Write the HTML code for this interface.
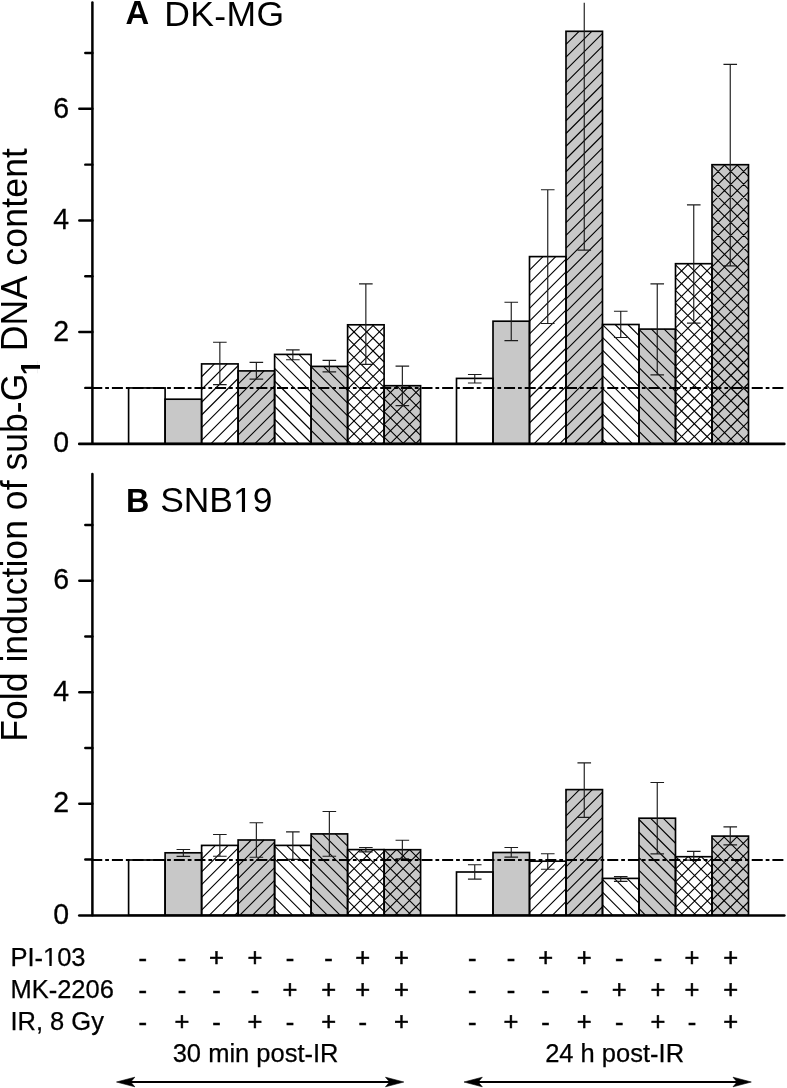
<!DOCTYPE html>
<html><head><meta charset="utf-8"><title>Figure</title>
<style>html,body{margin:0;padding:0;background:#fff;}svg{display:block;}text{font-family:"Liberation Sans",sans-serif;fill:#000;font-kerning:none;}</style></head><body>
<svg width="787" height="1088" viewBox="0 0 787 1088" style="will-change:transform;filter:blur(0.3px)">
<rect width="787" height="1088" fill="#fff"/>
<defs>
<clipPath id="c1r"><rect x="-5" y="-110" width="120" height="101.6"/><rect x="25.1" y="-9" width="8.9" height="9.6"/></clipPath>
<clipPath id="c1b"><rect x="-5" y="-110" width="120" height="98.8"/><rect x="23.3" y="-11.5" width="13.8" height="12.1"/></clipPath>
</defs>
<rect x="128.60" y="387.95" width="36.5" height="55.75" fill="#fff"/>
<rect x="165.10" y="399.20" width="36.5" height="44.50" fill="#c8c8c8"/>
<rect x="201.60" y="363.90" width="36.5" height="79.80" fill="#fff"/>
<path d="M201.60,364.02L201.72,363.90M201.60,376.76L214.46,363.90M201.60,389.50L227.20,363.90M201.60,402.24L238.10,365.74M201.60,414.98L238.10,378.48M201.60,427.72L238.10,391.22M201.60,440.46L238.10,403.96M211.10,443.70L238.10,416.70M223.84,443.70L238.10,429.44M236.58,443.70L238.10,442.18" stroke="#000" stroke-width="1.12" fill="none"/>
<rect x="238.10" y="370.90" width="36.5" height="72.80" fill="#c8c8c8"/>
<path d="M238.10,371.42L238.62,370.90M238.10,384.16L251.36,370.90M238.10,396.90L264.10,370.90M238.10,409.64L274.60,373.14M238.10,422.38L274.60,385.88M238.10,435.12L274.60,398.62M242.26,443.70L274.60,411.36M255.00,443.70L274.60,424.10M267.74,443.70L274.60,436.84" stroke="#000" stroke-width="1.12" fill="none"/>
<rect x="274.60" y="354.40" width="36.5" height="89.30" fill="#fff"/>
<path d="M274.60,431.98L286.32,443.70M274.60,419.24L299.06,443.70M274.60,406.50L311.10,443.00M274.60,393.76L311.10,430.26M274.60,381.02L311.10,417.52M274.60,368.28L311.10,404.78M274.60,355.54L311.10,392.04M286.20,354.40L311.10,379.30M298.94,354.40L311.10,366.56" stroke="#000" stroke-width="1.12" fill="none"/>
<rect x="311.10" y="366.40" width="36.5" height="77.30" fill="#c8c8c8"/>
<path d="M311.10,443.11L311.69,443.70M311.10,430.37L324.43,443.70M311.10,417.63L337.17,443.70M311.10,404.89L347.60,441.39M311.10,392.15L347.60,428.65M311.10,379.41L347.60,415.91M311.10,366.67L347.60,403.17M323.57,366.40L347.60,390.43M336.31,366.40L347.60,377.69" stroke="#000" stroke-width="1.12" fill="none"/>
<rect x="347.60" y="324.80" width="36.5" height="118.90" fill="#fff"/>
<path d="M347.60,325.50L348.30,324.80M347.60,338.24L361.04,324.80M347.60,350.98L373.78,324.80M347.60,363.72L384.10,327.22M347.60,376.46L384.10,339.96M347.60,389.20L384.10,352.70M347.60,401.94L384.10,365.44M347.60,414.68L384.10,378.18M347.60,427.42L384.10,390.92M347.60,440.16L384.10,403.66M356.80,443.70L384.10,416.40M369.54,443.70L384.10,429.14M382.28,443.70L384.10,441.88M347.60,440.14L351.16,443.70M347.60,427.40L363.90,443.70M347.60,414.66L376.64,443.70M347.60,401.92L384.10,438.42M347.60,389.18L384.10,425.68M347.60,376.44L384.10,412.94M347.60,363.70L384.10,400.20M347.60,350.96L384.10,387.46M347.60,338.22L384.10,374.72M347.60,325.48L384.10,361.98M359.66,324.80L384.10,349.24M372.40,324.80L384.10,336.50" stroke="#000" stroke-width="1.12" fill="none"/>
<rect x="384.10" y="385.70" width="36.5" height="58.00" fill="#c8c8c8"/>
<path d="M384.10,386.08L384.48,385.70M384.10,398.82L397.22,385.70M384.10,411.56L409.96,385.70M384.10,424.30L420.60,387.80M384.10,437.04L420.60,400.54M390.18,443.70L420.60,413.28M402.92,443.70L420.60,426.02M415.66,443.70L420.60,438.76M384.10,437.06L390.74,443.70M384.10,424.32L403.48,443.70M384.10,411.58L416.22,443.70M384.10,398.84L420.60,435.34M384.10,386.10L420.60,422.60M396.44,385.70L420.60,409.86M409.18,385.70L420.60,397.12" stroke="#000" stroke-width="1.12" fill="none"/>
<rect x="128.60" y="387.95" width="36.5" height="55.75" fill="none" stroke="#000" stroke-width="1.65"/>
<rect x="165.10" y="399.20" width="36.5" height="44.50" fill="none" stroke="#000" stroke-width="1.65"/>
<rect x="201.60" y="363.90" width="36.5" height="79.80" fill="none" stroke="#000" stroke-width="1.65"/>
<rect x="238.10" y="370.90" width="36.5" height="72.80" fill="none" stroke="#000" stroke-width="1.65"/>
<rect x="274.60" y="354.40" width="36.5" height="89.30" fill="none" stroke="#000" stroke-width="1.65"/>
<rect x="311.10" y="366.40" width="36.5" height="77.30" fill="none" stroke="#000" stroke-width="1.65"/>
<rect x="347.60" y="324.80" width="36.5" height="118.90" fill="none" stroke="#000" stroke-width="1.65"/>
<rect x="384.10" y="385.70" width="36.5" height="58.00" fill="none" stroke="#000" stroke-width="1.65"/>
<path d="M219.85,342.20 L219.85,384.60 M213.05,342.20 L226.65,342.20 M213.05,384.60 L226.65,384.60" stroke="#1c1c1c" stroke-width="1.15" fill="none"/>
<path d="M256.35,362.30 L256.35,379.10 M249.55,362.30 L263.15,362.30 M249.55,379.10 L263.15,379.10" stroke="#1c1c1c" stroke-width="1.15" fill="none"/>
<path d="M292.85,349.80 L292.85,359.70 M286.05,349.80 L299.65,349.80 M286.05,359.70 L299.65,359.70" stroke="#1c1c1c" stroke-width="1.15" fill="none"/>
<path d="M329.35,360.40 L329.35,371.80 M322.55,360.40 L336.15,360.40 M322.55,371.80 L336.15,371.80" stroke="#1c1c1c" stroke-width="1.15" fill="none"/>
<path d="M365.85,283.90 L365.85,364.30 M359.05,283.90 L372.65,283.90 M359.05,364.30 L372.65,364.30" stroke="#1c1c1c" stroke-width="1.15" fill="none"/>
<path d="M402.35,366.10 L402.35,405.60 M395.55,366.10 L409.15,366.10 M395.55,405.60 L409.15,405.60" stroke="#1c1c1c" stroke-width="1.15" fill="none"/>
<rect x="456.50" y="378.40" width="36.5" height="65.30" fill="#fff"/>
<rect x="493.00" y="321.20" width="36.5" height="122.50" fill="#c8c8c8"/>
<rect x="529.50" y="256.60" width="36.5" height="187.10" fill="#fff"/>
<path d="M529.50,257.36L530.26,256.60M529.50,270.10L543.00,256.60M529.50,282.84L555.74,256.60M529.50,295.58L566.00,259.08M529.50,308.32L566.00,271.82M529.50,321.06L566.00,284.56M529.50,333.80L566.00,297.30M529.50,346.54L566.00,310.04M529.50,359.28L566.00,322.78M529.50,372.02L566.00,335.52M529.50,384.76L566.00,348.26M529.50,397.50L566.00,361.00M529.50,410.24L566.00,373.74M529.50,422.98L566.00,386.48M529.50,435.72L566.00,399.22M534.26,443.70L566.00,411.96M547.00,443.70L566.00,424.70M559.74,443.70L566.00,437.44" stroke="#000" stroke-width="1.12" fill="none"/>
<rect x="566.00" y="31.30" width="36.5" height="412.40" fill="#c8c8c8"/>
<path d="M566.00,31.59L566.29,31.30M566.00,44.33L579.03,31.30M566.00,57.07L591.77,31.30M566.00,69.81L602.50,33.31M566.00,82.55L602.50,46.05M566.00,95.29L602.50,58.79M566.00,108.03L602.50,71.53M566.00,120.77L602.50,84.27M566.00,133.51L602.50,97.01M566.00,146.25L602.50,109.75M566.00,158.99L602.50,122.49M566.00,171.73L602.50,135.23M566.00,184.47L602.50,147.97M566.00,197.21L602.50,160.71M566.00,209.95L602.50,173.45M566.00,222.69L602.50,186.19M566.00,235.43L602.50,198.93M566.00,248.17L602.50,211.67M566.00,260.91L602.50,224.41M566.00,273.65L602.50,237.15M566.00,286.39L602.50,249.89M566.00,299.13L602.50,262.63M566.00,311.87L602.50,275.37M566.00,324.61L602.50,288.11M566.00,337.35L602.50,300.85M566.00,350.09L602.50,313.59M566.00,362.83L602.50,326.33M566.00,375.57L602.50,339.07M566.00,388.31L602.50,351.81M566.00,401.05L602.50,364.55M566.00,413.79L602.50,377.29M566.00,426.53L602.50,390.03M566.00,439.27L602.50,402.77M574.31,443.70L602.50,415.51M587.05,443.70L602.50,428.25M599.79,443.70L602.50,440.99" stroke="#000" stroke-width="1.12" fill="none"/>
<rect x="602.50" y="324.50" width="36.5" height="119.20" fill="#fff"/>
<path d="M602.50,439.28L606.92,443.70M602.50,426.54L619.66,443.70M602.50,413.80L632.40,443.70M602.50,401.06L639.00,437.56M602.50,388.32L639.00,424.82M602.50,375.58L639.00,412.08M602.50,362.84L639.00,399.34M602.50,350.10L639.00,386.60M602.50,337.36L639.00,373.86M602.50,324.62L639.00,361.12M615.12,324.50L639.00,348.38M627.86,324.50L639.00,335.64" stroke="#000" stroke-width="1.12" fill="none"/>
<rect x="639.00" y="329.10" width="36.5" height="114.60" fill="#c8c8c8"/>
<path d="M639.00,431.32L651.38,443.70M639.00,418.58L664.12,443.70M639.00,405.84L675.50,442.34M639.00,393.10L675.50,429.60M639.00,380.36L675.50,416.86M639.00,367.62L675.50,404.12M639.00,354.88L675.50,391.38M639.00,342.14L675.50,378.64M639.00,329.40L675.50,365.90M651.44,329.10L675.50,353.16M664.18,329.10L675.50,340.42" stroke="#000" stroke-width="1.12" fill="none"/>
<rect x="675.50" y="263.70" width="36.5" height="180.00" fill="#fff"/>
<path d="M675.50,264.25L676.05,263.70M675.50,276.99L688.79,263.70M675.50,289.73L701.53,263.70M675.50,302.47L712.00,265.97M675.50,315.21L712.00,278.71M675.50,327.95L712.00,291.45M675.50,340.69L712.00,304.19M675.50,353.43L712.00,316.93M675.50,366.17L712.00,329.67M675.50,378.91L712.00,342.41M675.50,391.65L712.00,355.15M675.50,404.39L712.00,367.89M675.50,417.13L712.00,380.63M675.50,429.87L712.00,393.37M675.50,442.61L712.00,406.11M687.15,443.70L712.00,418.85M699.89,443.70L712.00,431.59M675.50,443.21L675.99,443.70M675.50,430.47L688.73,443.70M675.50,417.73L701.47,443.70M675.50,404.99L712.00,441.49M675.50,392.25L712.00,428.75M675.50,379.51L712.00,416.01M675.50,366.77L712.00,403.27M675.50,354.03L712.00,390.53M675.50,341.29L712.00,377.79M675.50,328.55L712.00,365.05M675.50,315.81L712.00,352.31M675.50,303.07L712.00,339.57M675.50,290.33L712.00,326.83M675.50,277.59L712.00,314.09M675.50,264.85L712.00,301.35M687.09,263.70L712.00,288.61M699.83,263.70L712.00,275.87" stroke="#000" stroke-width="1.12" fill="none"/>
<rect x="712.00" y="164.70" width="36.5" height="279.00" fill="#c8c8c8"/>
<path d="M712.00,164.95L712.25,164.70M712.00,177.69L724.99,164.70M712.00,190.43L737.73,164.70M712.00,203.17L748.50,166.67M712.00,215.91L748.50,179.41M712.00,228.65L748.50,192.15M712.00,241.39L748.50,204.89M712.00,254.13L748.50,217.63M712.00,266.87L748.50,230.37M712.00,279.61L748.50,243.11M712.00,292.35L748.50,255.85M712.00,305.09L748.50,268.59M712.00,317.83L748.50,281.33M712.00,330.57L748.50,294.07M712.00,343.31L748.50,306.81M712.00,356.05L748.50,319.55M712.00,368.79L748.50,332.29M712.00,381.53L748.50,345.03M712.00,394.27L748.50,357.77M712.00,407.01L748.50,370.51M712.00,419.75L748.50,383.25M712.00,432.49L748.50,395.99M713.53,443.70L748.50,408.73M726.27,443.70L748.50,421.47M739.01,443.70L748.50,434.21M712.00,432.93L722.77,443.70M712.00,420.19L735.51,443.70M712.00,407.45L748.25,443.70M712.00,394.71L748.50,431.21M712.00,381.97L748.50,418.47M712.00,369.23L748.50,405.73M712.00,356.49L748.50,392.99M712.00,343.75L748.50,380.25M712.00,331.01L748.50,367.51M712.00,318.27L748.50,354.77M712.00,305.53L748.50,342.03M712.00,292.79L748.50,329.29M712.00,280.05L748.50,316.55M712.00,267.31L748.50,303.81M712.00,254.57L748.50,291.07M712.00,241.83L748.50,278.33M712.00,229.09L748.50,265.59M712.00,216.35L748.50,252.85M712.00,203.61L748.50,240.11M712.00,190.87L748.50,227.37M712.00,178.13L748.50,214.63M712.00,165.39L748.50,201.89M724.05,164.70L748.50,189.15M736.79,164.70L748.50,176.41" stroke="#000" stroke-width="1.12" fill="none"/>
<rect x="456.50" y="378.40" width="36.5" height="65.30" fill="none" stroke="#000" stroke-width="1.65"/>
<rect x="493.00" y="321.20" width="36.5" height="122.50" fill="none" stroke="#000" stroke-width="1.65"/>
<rect x="529.50" y="256.60" width="36.5" height="187.10" fill="none" stroke="#000" stroke-width="1.65"/>
<rect x="566.00" y="31.30" width="36.5" height="412.40" fill="none" stroke="#000" stroke-width="1.65"/>
<rect x="602.50" y="324.50" width="36.5" height="119.20" fill="none" stroke="#000" stroke-width="1.65"/>
<rect x="639.00" y="329.10" width="36.5" height="114.60" fill="none" stroke="#000" stroke-width="1.65"/>
<rect x="675.50" y="263.70" width="36.5" height="180.00" fill="none" stroke="#000" stroke-width="1.65"/>
<rect x="712.00" y="164.70" width="36.5" height="279.00" fill="none" stroke="#000" stroke-width="1.65"/>
<path d="M474.75,374.50 L474.75,383.00 M467.95,374.50 L481.55,374.50 M467.95,383.00 L481.55,383.00" stroke="#1c1c1c" stroke-width="1.15" fill="none"/>
<path d="M511.25,302.20 L511.25,340.60 M504.45,302.20 L518.05,302.20 M504.45,340.60 L518.05,340.60" stroke="#1c1c1c" stroke-width="1.15" fill="none"/>
<path d="M547.75,189.70 L547.75,323.50 M540.95,189.70 L554.55,189.70 M540.95,323.50 L554.55,323.50" stroke="#1c1c1c" stroke-width="1.15" fill="none"/>
<path d="M584.25,2.7 L584.25,250.10 M577.45,250.10 L591.05,250.10" stroke="#1c1c1c" stroke-width="1.15" fill="none"/>
<path d="M620.75,311.20 L620.75,337.50 M613.95,311.20 L627.55,311.20 M613.95,337.50 L627.55,337.50" stroke="#1c1c1c" stroke-width="1.15" fill="none"/>
<path d="M657.25,283.80 L657.25,374.80 M650.45,283.80 L664.05,283.80 M650.45,374.80 L664.05,374.80" stroke="#1c1c1c" stroke-width="1.15" fill="none"/>
<path d="M693.75,204.90 L693.75,323.10 M686.95,204.90 L700.55,204.90 M686.95,323.10 L700.55,323.10" stroke="#1c1c1c" stroke-width="1.15" fill="none"/>
<path d="M730.25,64.40 L730.25,265.90 M723.45,64.40 L737.05,64.40 M723.45,265.90 L737.05,265.90" stroke="#1c1c1c" stroke-width="1.15" fill="none"/>
<line x1="91.26" y1="387.95" x2="783.8" y2="387.95" stroke="#000" stroke-width="1.9" stroke-dasharray="11 2.95 3.74 2.95"/>
<line x1="92.4" y1="2.5" x2="92.4" y2="443.7" stroke="#000" stroke-width="2.5" stroke-linecap="round"/>
<line x1="79.3" y1="443.9" x2="784.3" y2="443.9" stroke="#000" stroke-width="2.7" stroke-linecap="round"/>
<line x1="85.3" y1="387.89" x2="92.4" y2="387.89" stroke="#000" stroke-width="2.4" stroke-linecap="round"/>
<line x1="79.3" y1="332.07" x2="92.4" y2="332.07" stroke="#000" stroke-width="2.4" stroke-linecap="round"/>
<line x1="85.3" y1="276.26" x2="92.4" y2="276.26" stroke="#000" stroke-width="2.4" stroke-linecap="round"/>
<line x1="79.3" y1="220.44" x2="92.4" y2="220.44" stroke="#000" stroke-width="2.4" stroke-linecap="round"/>
<line x1="85.3" y1="164.63" x2="92.4" y2="164.63" stroke="#000" stroke-width="2.4" stroke-linecap="round"/>
<line x1="79.3" y1="108.81" x2="92.4" y2="108.81" stroke="#000" stroke-width="2.4" stroke-linecap="round"/>
<line x1="85.3" y1="53.00" x2="92.4" y2="53.00" stroke="#000" stroke-width="2.4" stroke-linecap="round"/>
<text transform="translate(69.1,452.40) scale(0.94,1)" font-size="30.3" text-anchor="end" stroke="#000" stroke-width="0.3">0</text>
<text transform="translate(69.1,340.77) scale(0.94,1)" font-size="30.3" text-anchor="end" stroke="#000" stroke-width="0.3">2</text>
<text transform="translate(69.1,229.14) scale(0.94,1)" font-size="30.3" text-anchor="end" stroke="#000" stroke-width="0.3">4</text>
<text transform="translate(69.1,117.51) scale(0.94,1)" font-size="30.3" text-anchor="end" stroke="#000" stroke-width="0.3">6</text>
<rect x="128.60" y="860.00" width="36.5" height="55.30" fill="#fff"/>
<rect x="165.10" y="852.80" width="36.5" height="62.50" fill="#c8c8c8"/>
<rect x="201.60" y="845.40" width="36.5" height="69.90" fill="#fff"/>
<path d="M201.60,846.46L202.66,845.40M201.60,859.20L215.40,845.40M201.60,871.94L228.14,845.40M201.60,884.68L238.10,848.18M201.60,897.42L238.10,860.92M201.60,910.16L238.10,873.66M209.20,915.30L238.10,886.40M221.94,915.30L238.10,899.14M234.68,915.30L238.10,911.88" stroke="#000" stroke-width="1.12" fill="none"/>
<rect x="238.10" y="840.00" width="36.5" height="75.30" fill="#c8c8c8"/>
<path d="M238.10,840.42L238.52,840.00M238.10,853.16L251.26,840.00M238.10,865.90L264.00,840.00M238.10,878.64L274.60,842.14M238.10,891.38L274.60,854.88M238.10,904.12L274.60,867.62M239.66,915.30L274.60,880.36M252.40,915.30L274.60,893.10M265.14,915.30L274.60,905.84" stroke="#000" stroke-width="1.12" fill="none"/>
<rect x="274.60" y="845.40" width="36.5" height="69.90" fill="#fff"/>
<path d="M274.60,909.78L280.12,915.30M274.60,897.04L292.86,915.30M274.60,884.30L305.60,915.30M274.60,871.56L311.10,908.06M274.60,858.82L311.10,895.32M274.60,846.08L311.10,882.58M286.66,845.40L311.10,869.84M299.40,845.40L311.10,857.10" stroke="#000" stroke-width="1.12" fill="none"/>
<rect x="311.10" y="833.90" width="36.5" height="81.40" fill="#c8c8c8"/>
<path d="M311.10,911.58L314.82,915.30M311.10,898.84L327.56,915.30M311.10,886.10L340.30,915.30M311.10,873.36L347.60,909.86M311.10,860.62L347.60,897.12M311.10,847.88L347.60,884.38M311.10,835.14L347.60,871.64M322.60,833.90L347.60,858.90M335.34,833.90L347.60,846.16" stroke="#000" stroke-width="1.12" fill="none"/>
<rect x="347.60" y="849.60" width="36.5" height="65.70" fill="#fff"/>
<path d="M347.60,849.66L347.66,849.60M347.60,862.40L360.40,849.60M347.60,875.14L373.14,849.60M347.60,887.88L384.10,851.38M347.60,900.62L384.10,864.12M347.60,913.36L384.10,876.86M358.40,915.30L384.10,889.60M371.14,915.30L384.10,902.34M383.88,915.30L384.10,915.08M347.60,913.08L349.82,915.30M347.60,900.34L362.56,915.30M347.60,887.60L375.30,915.30M347.60,874.86L384.10,911.36M347.60,862.12L384.10,898.62M347.82,849.60L384.10,885.88M360.56,849.60L384.10,873.14M373.30,849.60L384.10,860.40" stroke="#000" stroke-width="1.12" fill="none"/>
<rect x="384.10" y="849.70" width="36.5" height="65.60" fill="#c8c8c8"/>
<path d="M384.10,862.10L396.50,849.70M384.10,874.84L409.24,849.70M384.10,887.58L420.60,851.08M384.10,900.32L420.60,863.82M384.10,913.06L420.60,876.56M394.60,915.30L420.60,889.30M407.34,915.30L420.60,902.04M420.08,915.30L420.60,914.78M384.10,913.38L386.02,915.30M384.10,900.64L398.76,915.30M384.10,887.90L411.50,915.30M384.10,875.16L420.60,911.66M384.10,862.42L420.60,898.92M384.12,849.70L420.60,886.18M396.86,849.70L420.60,873.44M409.60,849.70L420.60,860.70" stroke="#000" stroke-width="1.12" fill="none"/>
<rect x="128.60" y="860.00" width="36.5" height="55.30" fill="none" stroke="#000" stroke-width="1.65"/>
<rect x="165.10" y="852.80" width="36.5" height="62.50" fill="none" stroke="#000" stroke-width="1.65"/>
<rect x="201.60" y="845.40" width="36.5" height="69.90" fill="none" stroke="#000" stroke-width="1.65"/>
<rect x="238.10" y="840.00" width="36.5" height="75.30" fill="none" stroke="#000" stroke-width="1.65"/>
<rect x="274.60" y="845.40" width="36.5" height="69.90" fill="none" stroke="#000" stroke-width="1.65"/>
<rect x="311.10" y="833.90" width="36.5" height="81.40" fill="none" stroke="#000" stroke-width="1.65"/>
<rect x="347.60" y="849.60" width="36.5" height="65.70" fill="none" stroke="#000" stroke-width="1.65"/>
<rect x="384.10" y="849.70" width="36.5" height="65.60" fill="none" stroke="#000" stroke-width="1.65"/>
<path d="M183.35,849.50 L183.35,856.30 M176.55,849.50 L190.15,849.50 M176.55,856.30 L190.15,856.30" stroke="#1c1c1c" stroke-width="1.15" fill="none"/>
<path d="M219.85,834.50 L219.85,856.20 M213.05,834.50 L226.65,834.50 M213.05,856.20 L226.65,856.20" stroke="#1c1c1c" stroke-width="1.15" fill="none"/>
<path d="M256.35,822.70 L256.35,857.20 M249.55,822.70 L263.15,822.70 M249.55,857.20 L263.15,857.20" stroke="#1c1c1c" stroke-width="1.15" fill="none"/>
<path d="M292.85,831.80 L292.85,859.30 M286.05,831.80 L299.65,831.80 M286.05,859.30 L299.65,859.30" stroke="#1c1c1c" stroke-width="1.15" fill="none"/>
<path d="M329.35,811.50 L329.35,856.20 M322.55,811.50 L336.15,811.50 M322.55,856.20 L336.15,856.20" stroke="#1c1c1c" stroke-width="1.15" fill="none"/>
<path d="M365.85,847.50 L365.85,851.80 M359.05,847.50 L372.65,847.50 M359.05,851.80 L372.65,851.80" stroke="#1c1c1c" stroke-width="1.15" fill="none"/>
<path d="M402.35,840.20 L402.35,858.90 M395.55,840.20 L409.15,840.20 M395.55,858.90 L409.15,858.90" stroke="#1c1c1c" stroke-width="1.15" fill="none"/>
<rect x="456.50" y="872.00" width="36.5" height="43.30" fill="#fff"/>
<rect x="493.00" y="852.50" width="36.5" height="62.80" fill="#c8c8c8"/>
<rect x="529.50" y="861.20" width="36.5" height="54.10" fill="#fff"/>
<path d="M529.50,861.67L529.97,861.20M529.50,874.41L542.71,861.20M529.50,887.15L555.45,861.20M529.50,899.89L566.00,863.39M529.50,912.63L566.00,876.13M539.57,915.30L566.00,888.87M552.31,915.30L566.00,901.61M565.05,915.30L566.00,914.35" stroke="#000" stroke-width="1.12" fill="none"/>
<rect x="566.00" y="789.60" width="36.5" height="125.70" fill="#c8c8c8"/>
<path d="M566.00,790.36L566.76,789.60M566.00,803.10L579.50,789.60M566.00,815.84L592.24,789.60M566.00,828.58L602.50,792.08M566.00,841.32L602.50,804.82M566.00,854.06L602.50,817.56M566.00,866.80L602.50,830.30M566.00,879.54L602.50,843.04M566.00,892.28L602.50,855.78M566.00,905.02L602.50,868.52M568.46,915.30L602.50,881.26M581.20,915.30L602.50,894.00M593.94,915.30L602.50,906.74" stroke="#000" stroke-width="1.12" fill="none"/>
<rect x="602.50" y="878.40" width="36.5" height="36.90" fill="#fff"/>
<path d="M602.50,904.88L612.92,915.30M602.50,892.14L625.66,915.30M602.50,879.40L638.40,915.30M614.24,878.40L639.00,903.16M626.98,878.40L639.00,890.42" stroke="#000" stroke-width="1.12" fill="none"/>
<rect x="639.00" y="818.20" width="36.5" height="97.10" fill="#c8c8c8"/>
<path d="M639.00,908.68L645.62,915.30M639.00,895.94L658.36,915.30M639.00,883.20L671.10,915.30M639.00,870.46L675.50,906.96M639.00,857.72L675.50,894.22M639.00,844.98L675.50,881.48M639.00,832.24L675.50,868.74M639.00,819.50L675.50,856.00M650.44,818.20L675.50,843.26M663.18,818.20L675.50,830.52" stroke="#000" stroke-width="1.12" fill="none"/>
<rect x="675.50" y="856.70" width="36.5" height="58.60" fill="#fff"/>
<path d="M675.50,869.10L687.90,856.70M675.50,881.84L700.64,856.70M675.50,894.58L712.00,858.08M675.50,907.32L712.00,870.82M680.26,915.30L712.00,883.56M693.00,915.30L712.00,896.30M705.74,915.30L712.00,909.04M675.50,907.38L683.42,915.30M675.50,894.64L696.16,915.30M675.50,881.90L708.90,915.30M675.50,869.16L712.00,905.66M675.78,856.70L712.00,892.92M688.52,856.70L712.00,880.18M701.26,856.70L712.00,867.44" stroke="#000" stroke-width="1.12" fill="none"/>
<rect x="712.00" y="836.10" width="36.5" height="79.20" fill="#c8c8c8"/>
<path d="M712.00,836.32L712.22,836.10M712.00,849.06L724.96,836.10M712.00,861.80L737.70,836.10M712.00,874.54L748.50,838.04M712.00,887.28L748.50,850.78M712.00,900.02L748.50,863.52M712.00,912.76L748.50,876.26M722.20,915.30L748.50,889.00M734.94,915.30L748.50,901.74M747.68,915.30L748.50,914.48M712.00,914.08L713.22,915.30M712.00,901.34L725.96,915.30M712.00,888.60L738.70,915.30M712.00,875.86L748.50,912.36M712.00,863.12L748.50,899.62M712.00,850.38L748.50,886.88M712.00,837.64L748.50,874.14M723.20,836.10L748.50,861.40M735.94,836.10L748.50,848.66" stroke="#000" stroke-width="1.12" fill="none"/>
<rect x="456.50" y="872.00" width="36.5" height="43.30" fill="none" stroke="#000" stroke-width="1.65"/>
<rect x="493.00" y="852.50" width="36.5" height="62.80" fill="none" stroke="#000" stroke-width="1.65"/>
<rect x="529.50" y="861.20" width="36.5" height="54.10" fill="none" stroke="#000" stroke-width="1.65"/>
<rect x="566.00" y="789.60" width="36.5" height="125.70" fill="none" stroke="#000" stroke-width="1.65"/>
<rect x="602.50" y="878.40" width="36.5" height="36.90" fill="none" stroke="#000" stroke-width="1.65"/>
<rect x="639.00" y="818.20" width="36.5" height="97.10" fill="none" stroke="#000" stroke-width="1.65"/>
<rect x="675.50" y="856.70" width="36.5" height="58.60" fill="none" stroke="#000" stroke-width="1.65"/>
<rect x="712.00" y="836.10" width="36.5" height="79.20" fill="none" stroke="#000" stroke-width="1.65"/>
<path d="M474.75,864.70 L474.75,879.10 M467.95,864.70 L481.55,864.70 M467.95,879.10 L481.55,879.10" stroke="#1c1c1c" stroke-width="1.15" fill="none"/>
<path d="M511.25,847.50 L511.25,857.10 M504.45,847.50 L518.05,847.50 M504.45,857.10 L518.05,857.10" stroke="#1c1c1c" stroke-width="1.15" fill="none"/>
<path d="M547.75,853.70 L547.75,869.20 M540.95,853.70 L554.55,853.70 M540.95,869.20 L554.55,869.20" stroke="#1c1c1c" stroke-width="1.15" fill="none"/>
<path d="M584.25,762.90 L584.25,817.30 M577.45,762.90 L591.05,762.90 M577.45,817.30 L591.05,817.30" stroke="#1c1c1c" stroke-width="1.15" fill="none"/>
<path d="M620.75,876.60 L620.75,881.40 M613.95,876.60 L627.55,876.60 M613.95,881.40 L627.55,881.40" stroke="#1c1c1c" stroke-width="1.15" fill="none"/>
<path d="M657.25,782.50 L657.25,853.90 M650.45,782.50 L664.05,782.50 M650.45,853.90 L664.05,853.90" stroke="#1c1c1c" stroke-width="1.15" fill="none"/>
<path d="M693.75,851.40 L693.75,860.10 M686.95,851.40 L700.55,851.40 M686.95,860.10 L700.55,860.10" stroke="#1c1c1c" stroke-width="1.15" fill="none"/>
<path d="M730.25,826.90 L730.25,844.80 M723.45,826.90 L737.05,826.90 M723.45,844.80 L737.05,844.80" stroke="#1c1c1c" stroke-width="1.15" fill="none"/>
<line x1="91.26" y1="860.0" x2="783.8" y2="860.0" stroke="#000" stroke-width="1.9" stroke-dasharray="11 2.95 3.74 2.95"/>
<line x1="92.4" y1="474.1" x2="92.4" y2="915.3" stroke="#000" stroke-width="2.5" stroke-linecap="round"/>
<line x1="79.3" y1="915.5" x2="784.3" y2="915.5" stroke="#000" stroke-width="2.7" stroke-linecap="round"/>
<line x1="85.3" y1="859.54" x2="92.4" y2="859.54" stroke="#000" stroke-width="2.4" stroke-linecap="round"/>
<line x1="79.3" y1="803.79" x2="92.4" y2="803.79" stroke="#000" stroke-width="2.4" stroke-linecap="round"/>
<line x1="85.3" y1="748.03" x2="92.4" y2="748.03" stroke="#000" stroke-width="2.4" stroke-linecap="round"/>
<line x1="79.3" y1="692.27" x2="92.4" y2="692.27" stroke="#000" stroke-width="2.4" stroke-linecap="round"/>
<line x1="85.3" y1="636.51" x2="92.4" y2="636.51" stroke="#000" stroke-width="2.4" stroke-linecap="round"/>
<line x1="79.3" y1="580.76" x2="92.4" y2="580.76" stroke="#000" stroke-width="2.4" stroke-linecap="round"/>
<line x1="85.3" y1="525.00" x2="92.4" y2="525.00" stroke="#000" stroke-width="2.4" stroke-linecap="round"/>
<text transform="translate(69.1,924.00) scale(0.94,1)" font-size="30.3" text-anchor="end" stroke="#000" stroke-width="0.3">0</text>
<text transform="translate(69.1,812.49) scale(0.94,1)" font-size="30.3" text-anchor="end" stroke="#000" stroke-width="0.3">2</text>
<text transform="translate(69.1,700.97) scale(0.94,1)" font-size="30.3" text-anchor="end" stroke="#000" stroke-width="0.3">4</text>
<text transform="translate(69.1,589.46) scale(0.94,1)" font-size="30.3" text-anchor="end" stroke="#000" stroke-width="0.3">6</text>
<text x="125.60" y="24.40" font-size="32.8" font-weight="bold">A</text>
<text x="164.20" y="26.20" font-size="35.5" letter-spacing="0.4">DK</text>
<text x="214.32" y="27.70" font-size="35.5" letter-spacing="0.4">-</text>
<text x="226.54" y="26.20" font-size="35.5" letter-spacing="0.4">MG</text>
<text x="125.90" y="511.70" font-size="32.3" font-weight="bold">B</text>
<text x="160.20" y="511.90" font-size="35.4">SNB</text>
<text transform="translate(232.99,511.90) scale(0.3540)" font-size="100" clip-path="url(#c1r)">1</text>
<text x="252.68" y="511.90" font-size="35.4">9</text>
<text transform="translate(27.1,741.7) rotate(-90) scale(0.989,1) " x="0.00" y="0.00" font-size="36">Fold induction of sub</text>
<text transform="translate(27.1,741.7) rotate(-90) scale(0.989,1) " x="332.21" y="1.50" font-size="36">-</text>
<text transform="translate(27.1,741.7) rotate(-90) scale(0.989,1) " x="344.20" y="0.00" font-size="36">G</text>
<text transform="translate(27.1,741.7) rotate(-90) scale(0.989,1) translate(370.80,13.00) scale(0.2700)" font-size="100" font-weight="bold" clip-path="url(#c1b)">1</text>
<text transform="translate(27.1,741.7) rotate(-90) scale(0.989,1) " x="384.60" y="0.00" font-size="36" letter-spacing="0.15" xml:space="preserve"> DNA content</text>
<text x="10.40" y="966.00" font-size="25.5" stroke="#000" stroke-width="0.25">PI</text>
<text x="34.49" y="967.10" font-size="25.5" stroke="#000" stroke-width="0.25">-</text>
<text transform="translate(42.98,966.00) scale(0.2550)" font-size="100" stroke="#000" stroke-width="0.98" clip-path="url(#c1r)">1</text>
<text x="57.17" y="966.00" font-size="25.5" stroke="#000" stroke-width="0.25">03</text>
<text x="142.8" y="967.0" font-size="25.5" text-anchor="middle" stroke="#000" stroke-width="0.5">-</text>
<text x="181.9" y="967.0" font-size="25.5" text-anchor="middle" stroke="#000" stroke-width="0.5">-</text>
<text x="216.4" y="966.0" font-size="25.5" text-anchor="middle" stroke="#000" stroke-width="0.5">+</text>
<text x="255.0" y="966.0" font-size="25.5" text-anchor="middle" stroke="#000" stroke-width="0.5">+</text>
<text x="290.0" y="967.0" font-size="25.5" text-anchor="middle" stroke="#000" stroke-width="0.5">-</text>
<text x="328.6" y="967.0" font-size="25.5" text-anchor="middle" stroke="#000" stroke-width="0.5">-</text>
<text x="362.8" y="966.0" font-size="25.5" text-anchor="middle" stroke="#000" stroke-width="0.5">+</text>
<text x="401.4" y="966.0" font-size="25.5" text-anchor="middle" stroke="#000" stroke-width="0.5">+</text>
<text x="472.3" y="967.0" font-size="25.5" text-anchor="middle" stroke="#000" stroke-width="0.5">-</text>
<text x="511.0" y="967.0" font-size="25.5" text-anchor="middle" stroke="#000" stroke-width="0.5">-</text>
<text x="545.6" y="966.0" font-size="25.5" text-anchor="middle" stroke="#000" stroke-width="0.5">+</text>
<text x="584.3" y="966.0" font-size="25.5" text-anchor="middle" stroke="#000" stroke-width="0.5">+</text>
<text x="619.2" y="967.0" font-size="25.5" text-anchor="middle" stroke="#000" stroke-width="0.5">-</text>
<text x="658.0" y="967.0" font-size="25.5" text-anchor="middle" stroke="#000" stroke-width="0.5">-</text>
<text x="692.0" y="966.0" font-size="25.5" text-anchor="middle" stroke="#000" stroke-width="0.5">+</text>
<text x="730.7" y="966.0" font-size="25.5" text-anchor="middle" stroke="#000" stroke-width="0.5">+</text>
<text x="10.40" y="998.10" font-size="25.5" stroke="#000" stroke-width="0.25">MK</text>
<text x="48.65" y="999.20" font-size="25.5" stroke="#000" stroke-width="0.25">-</text>
<text x="57.14" y="998.10" font-size="25.5" stroke="#000" stroke-width="0.25">2206</text>
<text x="142.8" y="999.1" font-size="25.5" text-anchor="middle" stroke="#000" stroke-width="0.5">-</text>
<text x="181.9" y="999.1" font-size="25.5" text-anchor="middle" stroke="#000" stroke-width="0.5">-</text>
<text x="216.4" y="999.1" font-size="25.5" text-anchor="middle" stroke="#000" stroke-width="0.5">-</text>
<text x="255.0" y="999.1" font-size="25.5" text-anchor="middle" stroke="#000" stroke-width="0.5">-</text>
<text x="290.0" y="998.1" font-size="25.5" text-anchor="middle" stroke="#000" stroke-width="0.5">+</text>
<text x="328.6" y="998.1" font-size="25.5" text-anchor="middle" stroke="#000" stroke-width="0.5">+</text>
<text x="362.8" y="998.1" font-size="25.5" text-anchor="middle" stroke="#000" stroke-width="0.5">+</text>
<text x="401.4" y="998.1" font-size="25.5" text-anchor="middle" stroke="#000" stroke-width="0.5">+</text>
<text x="472.3" y="999.1" font-size="25.5" text-anchor="middle" stroke="#000" stroke-width="0.5">-</text>
<text x="511.0" y="999.1" font-size="25.5" text-anchor="middle" stroke="#000" stroke-width="0.5">-</text>
<text x="545.6" y="999.1" font-size="25.5" text-anchor="middle" stroke="#000" stroke-width="0.5">-</text>
<text x="584.3" y="999.1" font-size="25.5" text-anchor="middle" stroke="#000" stroke-width="0.5">-</text>
<text x="619.2" y="998.1" font-size="25.5" text-anchor="middle" stroke="#000" stroke-width="0.5">+</text>
<text x="658.0" y="998.1" font-size="25.5" text-anchor="middle" stroke="#000" stroke-width="0.5">+</text>
<text x="692.0" y="998.1" font-size="25.5" text-anchor="middle" stroke="#000" stroke-width="0.5">+</text>
<text x="730.7" y="998.1" font-size="25.5" text-anchor="middle" stroke="#000" stroke-width="0.5">+</text>
<text x="10.40" y="1029.60" font-size="25.5" stroke="#000" stroke-width="0.25">IR, 8 Gy</text>
<text x="142.8" y="1030.6" font-size="25.5" text-anchor="middle" stroke="#000" stroke-width="0.5">-</text>
<text x="181.9" y="1029.6" font-size="25.5" text-anchor="middle" stroke="#000" stroke-width="0.5">+</text>
<text x="216.4" y="1030.6" font-size="25.5" text-anchor="middle" stroke="#000" stroke-width="0.5">-</text>
<text x="255.0" y="1029.6" font-size="25.5" text-anchor="middle" stroke="#000" stroke-width="0.5">+</text>
<text x="290.0" y="1030.6" font-size="25.5" text-anchor="middle" stroke="#000" stroke-width="0.5">-</text>
<text x="328.6" y="1029.6" font-size="25.5" text-anchor="middle" stroke="#000" stroke-width="0.5">+</text>
<text x="362.8" y="1030.6" font-size="25.5" text-anchor="middle" stroke="#000" stroke-width="0.5">-</text>
<text x="401.4" y="1029.6" font-size="25.5" text-anchor="middle" stroke="#000" stroke-width="0.5">+</text>
<text x="472.3" y="1030.6" font-size="25.5" text-anchor="middle" stroke="#000" stroke-width="0.5">-</text>
<text x="511.0" y="1029.6" font-size="25.5" text-anchor="middle" stroke="#000" stroke-width="0.5">+</text>
<text x="545.6" y="1030.6" font-size="25.5" text-anchor="middle" stroke="#000" stroke-width="0.5">-</text>
<text x="584.3" y="1029.6" font-size="25.5" text-anchor="middle" stroke="#000" stroke-width="0.5">+</text>
<text x="619.2" y="1030.6" font-size="25.5" text-anchor="middle" stroke="#000" stroke-width="0.5">-</text>
<text x="658.0" y="1029.6" font-size="25.5" text-anchor="middle" stroke="#000" stroke-width="0.5">+</text>
<text x="692.0" y="1030.6" font-size="25.5" text-anchor="middle" stroke="#000" stroke-width="0.5">-</text>
<text x="730.7" y="1029.6" font-size="25.5" text-anchor="middle" stroke="#000" stroke-width="0.5">+</text>
<text x="172.69" y="1061.90" font-size="25.5" stroke="#000" stroke-width="0.25">30 min post</text>
<text x="304.51" y="1063.00" font-size="25.5" stroke="#000" stroke-width="0.25">-</text>
<text x="313.01" y="1061.90" font-size="25.5" stroke="#000" stroke-width="0.25">IR</text>
<text x="545.15" y="1061.90" font-size="25.5" stroke="#000" stroke-width="0.25">24 h post</text>
<text x="650.06" y="1063.00" font-size="25.5" stroke="#000" stroke-width="0.25">-</text>
<text x="658.55" y="1061.90" font-size="25.5" stroke="#000" stroke-width="0.25">IR</text>
<line x1="124.5" y1="1082.0" x2="395.8" y2="1082.0" stroke="#000" stroke-width="2.1"/>
<path d="M116.5,1082.0 L134.8,1077.2 L130.7,1082.0 L134.8,1086.8 Z" fill="#000" stroke="#000" stroke-width="0.6" stroke-linejoin="round"/>
<path d="M403.8,1082.0 L385.5,1077.2 L389.6,1082.0 L385.5,1086.8 Z" fill="#000" stroke="#000" stroke-width="0.6" stroke-linejoin="round"/>
<line x1="472.0" y1="1082.0" x2="743.3" y2="1082.0" stroke="#000" stroke-width="2.1"/>
<path d="M464.0,1082.0 L482.3,1077.2 L478.2,1082.0 L482.3,1086.8 Z" fill="#000" stroke="#000" stroke-width="0.6" stroke-linejoin="round"/>
<path d="M751.3,1082.0 L733.0,1077.2 L737.0999999999999,1082.0 L733.0,1086.8 Z" fill="#000" stroke="#000" stroke-width="0.6" stroke-linejoin="round"/>
</svg></body></html>
